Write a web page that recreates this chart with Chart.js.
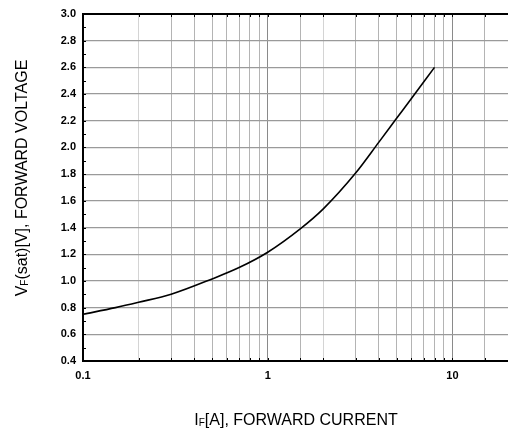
<!DOCTYPE html>
<html>
<head>
<meta charset="utf-8">
<script src="https://cdn.jsdelivr.net/npm/chart.js@4/dist/chart.umd.min.js"></script>
<style>
  html, body { margin: 0; padding: 0; background: #fff; }
  canvas { display: block; }
</style>
</head>
<body>
<canvas id="vfChart" width="508" height="432"></canvas>
<script>
// forward current [A] vs forward voltage [V]
const currentA = [0.1, 0.15, 0.2, 0.3, 0.5, 0.7, 1, 1.5, 2, 3, 4, 5, 6, 8];
const voltageV = [0.75, 0.80, 0.84, 0.90, 1.015, 1.10, 1.215, 1.39, 1.54, 1.81, 2.04, 2.22, 2.367, 2.6];

const xLabels = [0.1, 1, 10];
const yMin = 0.4, yMax = 3.0, yStep = 0.2;

const FONT = "'Liberation Sans', Arial, sans-serif";

const points = currentA.map((x, i) => ({ x: x, y: voltageV[i] }));

// small inward ticks on the frame + axis titles with subscripts
const framePlugin = {
    id: 'frame',
    afterDraw(chart) {
        const ctx = chart.ctx;
        const area = chart.chartArea;
        const xs = chart.scales.x;
        const ys = chart.scales.y;

        ctx.save();
        ctx.strokeStyle = '#000';
        ctx.lineWidth = 1;
        ctx.beginPath();
        // left axis: every 0.1
        for (let v = yMin; v <= yMax + 1e-9; v += 0.1) {
            const py = Math.round(ys.getPixelForValue(v)) + 0.5;
            ctx.moveTo(area.left, py);
            ctx.lineTo(area.left + 3, py);
        }
        // top and bottom: every log tick
        xs.ticks.forEach(t => {
            const px = Math.round(xs.getPixelForValue(t.value)) + 0.5;
            ctx.moveTo(px, area.top);
            ctx.lineTo(px, area.top + 3);
            ctx.moveTo(px, area.bottom);
            ctx.lineTo(px, area.bottom - 3);
        });
        ctx.stroke();

        // draws text runs, main + subscript
        function runs(parts, x, y) {
            let cx = x;
            parts.forEach(p => {
                ctx.font = p.sub ? '10px ' + FONT : '16px ' + FONT;
                ctx.fillText(p.t, cx, y + (p.sub ? 1 : 0));
                cx += ctx.measureText(p.t).width;
            });
        }
        function width(parts) {
            let w = 0;
            parts.forEach(p => {
                ctx.font = p.sub ? '10px ' + FONT : '16px ' + FONT;
                w += ctx.measureText(p.t).width;
            });
            return w;
        }

        ctx.fillStyle = '#000';
        ctx.textBaseline = 'alphabetic';
        ctx.textAlign = 'left';

        const xTitle = [{ t: 'I' }, { t: 'F', sub: true }, { t: '[A], FORWARD CURRENT' }];
        runs(xTitle, 296 - width(xTitle) / 2, 425);

        const yTitle = [{ t: 'V' }, { t: 'F', sub: true }, { t: '(sat)[V], FORWARD VOLTAGE' }];
        ctx.translate(27, 178);
        ctx.rotate(-Math.PI / 2);
        runs(yTitle, -width(yTitle) / 2, 0);
        ctx.restore();
    }
};

new Chart(document.getElementById('vfChart').getContext('2d'), {
    type: 'scatter',
    data: {
        datasets: [{
            data: points,
            showLine: true,
            borderColor: '#000',
            borderWidth: 1.6,
            pointRadius: 0,
            cubicInterpolationMode: 'monotone'
        }]
    },
    options: {
        responsive: false,
        animation: false,
        layout: { padding: { top: 14, right: 0, left: 0, bottom: 0 } },
        plugins: {
            legend: { display: false },
            tooltip: { enabled: false }
        },
        scales: {
            x: {
                type: 'logarithmic',
                min: 0.1,
                max: 20,
                afterFit: s => { s.height = 71; s.paddingLeft = 0; s.paddingRight = 0; },
                border: { color: '#000', width: 2 },
                grid: {
                    drawTicks: false,
                    lineWidth: 1,
                    color: c => {
                        const v = c.tick.value;
                        const m = v / Math.pow(10, Math.floor(Math.log10(v) + 1e-9));
                        if (Math.abs(m - 1) < 1e-6) return '#8a8a8a';
                        if (Math.abs(m - 2) < 1e-6) return '#d4d4d4';
                        return '#b4b4b4';
                    }
                },
                ticks: {
                    autoSkip: false,
                    maxRotation: 0,
                    padding: 8,
                    color: '#000',
                    font: { family: FONT, size: 11, weight: 'bold' },
                    callback: v => xLabels.some(l => Math.abs(l - v) < 1e-9) ? String(v) : ''
                }
            },
            y: {
                min: yMin,
                max: yMax,
                afterFit: s => { s.width = 83; s.paddingTop = 0; s.paddingBottom = 0; },
                border: { color: '#000', width: 2 },
                grid: {
                    drawTicks: false,
                    lineWidth: c => (c.tick.value >= yMax - 1e-6 ? 2 : 1.2),
                    color: c => (c.tick.value >= yMax - 1e-6 ? '#000' : '#9a9a9a')
                },
                ticks: {
                    stepSize: yStep,
                    padding: 7,
                    color: '#000',
                    font: { family: FONT, size: 11, weight: 'bold' },
                    callback: v => Number(v).toFixed(1)
                }
            }
        }
    },
    plugins: [framePlugin]
});
</script>
</body>
</html>
